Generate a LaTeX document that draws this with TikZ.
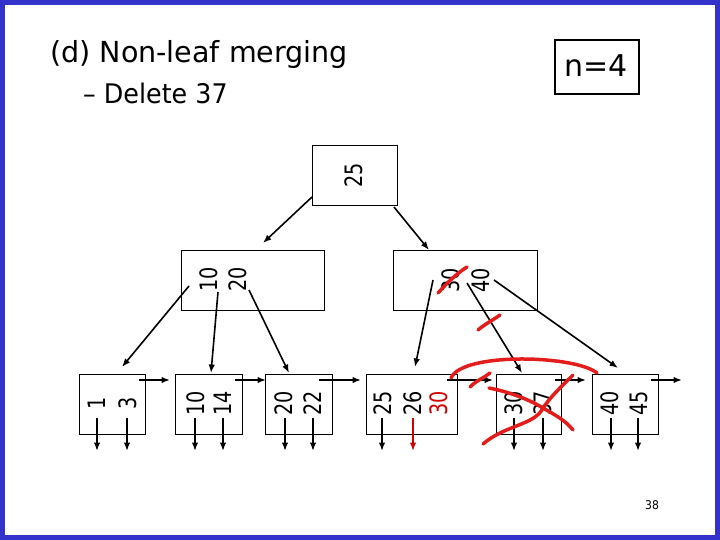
\documentclass[tikz,border=0pt]{standalone}
\usepackage{fontspec}
\setmainfont{DejaVu Sans}
\usetikzlibrary{arrows.meta}
\definecolor{frameblue}{RGB}{51,51,204}
\definecolor{inkred}{RGB}{228,28,28}
\definecolor{numred}{RGB}{210,0,0}
\tikzset{
  box/.style={draw, line width=1pt, inner sep=0pt, anchor=north west},
  ptr/.style={-{Latex[length=8.5pt,width=6.5pt]}, line width=1.6pt},
  num/.style={rotate=90, inner sep=0pt, font=\fontsize{24}{24}\selectfont},
  redmark/.style={draw=inkred, line width=3.5pt, line cap=round, line join=round},
}
\newcommand\nm[1]{\scalebox{0.8}[1]{#1}}
\begin{document}
\begin{tikzpicture}[x=1pt,y=-1pt]
% frame
\fill[frameblue] (0,0) rectangle (720,540);
\fill[white] (5,5) rectangle (715,535);
\useasboundingbox (0,0) rectangle (720,540);

% titles
\node[anchor=base west, inner sep=0pt, font=\fontsize{29}{29}\selectfont] (title) at (50,63) {\scalebox{0.985}[1]{(d) Non-leaf merging}};
\node[anchor=base west, inner sep=0pt, font=\fontsize{27}{27}\selectfont] (sub) at (83,104) {\scalebox{0.94}[1]{\textendash{} Delete 37}};
\node[draw, line width=2pt, minimum width=84pt, minimum height=54pt, inner sep=0pt, anchor=north west] (nbox) at (554,39) {};
\node[font=\fontsize{30}{30}\selectfont, inner sep=0pt] (ntext) at (596,66) {n=4};
\node[font=\fontsize{12}{12}\selectfont, inner sep=0pt] (page) at (652,505) {\scalebox{0.9}[1]{38}};

% boxes
\node[box, minimum width=85pt, minimum height=60pt] (root) at (312,145) {};
\node[box, minimum width=143pt, minimum height=60pt] (intL) at (181,250) {};
\node[box, minimum width=144pt, minimum height=60pt] (intR) at (393,250) {};
\node[box, minimum width=66pt, minimum height=60pt] (leafA) at (79,374) {};
\node[box, minimum width=67pt, minimum height=60pt] (leafB) at (175,374) {};
\node[box, minimum width=67pt, minimum height=60pt] (leafC) at (265,374) {};
\node[box, minimum width=91pt, minimum height=60pt] (leafD) at (366,374) {};
\node[box, minimum width=65pt, minimum height=60pt] (leafE) at (496,374) {};
\node[box, minimum width=66pt, minimum height=60pt] (leafF) at (592,374) {};

% numbers
\node[num] (k25) at (354,175) {\nm{25}};
\node[num] (k10) at (209,279) {\nm{10}};
\node[num] (k20) at (238,279) {\nm{20}};
\node[num] (k30i) at (451,280) {\nm{30}};
\node[num] (k40i) at (481,280) {\nm{40}};
\node[num] (a1) at (97,403) {\nm{1}};
\node[num] (a3) at (128,403) {\nm{3}};
\node[num] (b10) at (196,403) {\nm{10}};
\node[num] (b14) at (223,403) {\nm{14}};
\node[num] (c20) at (284,403) {\nm{20}};
\node[num] (c22) at (313,403) {\nm{22}};
\node[num] (d25) at (383,403) {\nm{25}};
\node[num] (d26) at (413,403) {\nm{26}};
\node[num, text=numred] (d30) at (439,403) {\nm{30}};
\node[num] (e30) at (514,403) {\nm{30}};
\node[num] (e37) at (543,403) {\nm{37}};
\node[num] (f40) at (610,403) {\nm{40}};
\node[num] (f45) at (639,403) {\nm{45}};

% pointer coordinates
\coordinate (rp1) at (312,197); \coordinate (rt1) at (263,243);
\coordinate (rp2) at (394,207); \coordinate (rt2) at (429,250);
\coordinate (lp1) at (189,286); \coordinate (lt1) at (122,367);
\coordinate (lp2) at (218,292); \coordinate (lt2) at (211,373);
\coordinate (lp3) at (249,290); \coordinate (lt3) at (289,373);
\coordinate (qp1) at (433,280); \coordinate (qt1) at (415,367);
\coordinate (qp2) at (467,283); \coordinate (qt2) at (522,373);
\coordinate (qp3) at (494,280); \coordinate (qt3) at (618,368);

\draw[ptr] (rp1) -- (rt1);
\draw[ptr] (rp2) -- (rt2);
\draw[ptr] (lp1) -- (lt1);
\draw[ptr] (lp2) -- (lt2);
\draw[ptr] (lp3) -- (lt3);
\draw[ptr] (qp1) -- (qt1);
\draw[ptr] (qp2) -- (qt2);
\draw[ptr] (qp3) -- (qt3);

% sibling pointers
\foreach \s/\e [count=\i] in {139/170, 235/266, 319/361, 447/493, 555/586, 651/682}{
  \coordinate (hs\i) at (\s,380); \coordinate (he\i) at (\e,380);
  \draw[ptr] (hs\i) -- (he\i);
}
% down pointers
\foreach \x [count=\i] in {97,127,195,223,285,313,382,413,514,543,611,638}{
  \coordinate (ds\i) at (\x,418); \coordinate (de\i) at (\x,451);
}
\foreach \i in {1,...,7,9,10,11,12}{ \draw[ptr] (ds\i) -- (de\i); }
\draw[ptr, draw=numred, fill=numred] (ds8) -- (de8);

% red hand marks
\coordinate (m1a) at (438,293); \coordinate (m1b) at (467,267);
\draw[redmark] (m1a) .. controls (448,282) and (456,274) .. (m1b);
\coordinate (m2a) at (478,330); \coordinate (m2b) at (500,315);
\draw[redmark] (m2a) .. controls (485,324) and (493,320) .. (m2b);
\coordinate (m3a) at (451,378); \coordinate (m3b) at (597,373);
\draw[redmark] (m3a) .. controls (462,352) and (575,355) .. (m3b);
\coordinate (m4a) at (470,387); \coordinate (m4b) at (490,373);
\draw[redmark] (m4a) .. controls (477,380) and (484,378) .. (m4b);
\coordinate (xa1) at (483,444); \coordinate (xa2) at (573,375);
\draw[redmark] (xa1) .. controls (505,425) and (535,425) .. (543,408) .. controls (552,395) and (562,386) .. (xa2);
\coordinate (xb1) at (489,388); \coordinate (xb2) at (573,430);
\draw[redmark] (xb1) .. controls (510,392) and (530,400) .. (543,408) .. controls (555,415) and (565,420) .. (xb2);
\end{tikzpicture}
\end{document}
